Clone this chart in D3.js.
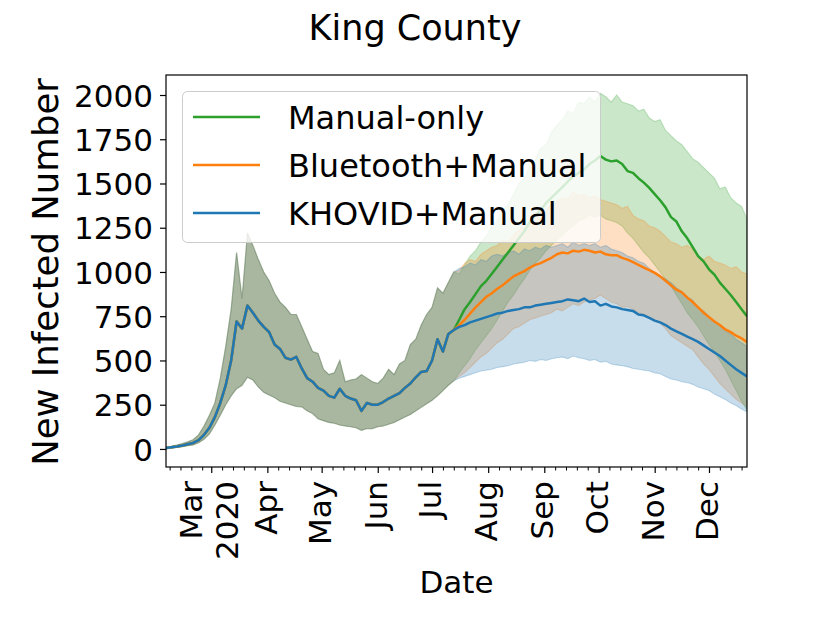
<!DOCTYPE html>
<html>
<head>
<meta charset="utf-8">
<script src="https://cdn.jsdelivr.net/npm/d3@7"></script>
<style>
  body { margin: 0; background: #fff; }
  svg text { font-family: "DejaVu Sans", sans-serif; fill: #000; }
</style>
</head>
<body>
<div id="chart"></div>
<script>
// samples every 3 days from 2020-02-05
var START = new Date(2020, 1, 5), STEP = 3, N = 108;

// before the split all three scenarios share the same curve (k = 0..53)
var sharedMean = [5,10,14,20,27,34,50,80,120,180,260,360,500,720,680,810,770,725,690,660,590,565,515,505,520,455,400,380,345,330,300,290,340,300,285,275,215,260,250,250,265,285,300,315,345,370,405,435,440,500,620,550,650,672];
var sharedHigh = [8,15,22,30,40,52,80,130,190,260,400,580,790,1110,850,1220,1150,1070,1000,950,880,830,800,760,760,690,620,550,540,450,420,430,500,380,390,395,420,400,380,370,400,450,420,480,500,590,620,700,760,800,910,880,940,1000];
var sharedLow = [2,5,8,12,18,22,35,55,85,135,190,250,300,340,360,405,390,350,320,305,290,270,260,250,240,238,215,200,170,160,150,145,135,130,125,120,105,115,115,125,130,140,150,165,180,195,215,235,255,275,300,330,360,385];

// after the split (k = 54..107)
var greenMean = [730,790,830,875,920,950,990,1030,1070,1110,1150,1190,1230,1280,1320,1350,1390,1420,1450,1480,1510,1540,1560,1580,1610,1630,1655,1635,1625,1630,1610,1570,1560,1530,1505,1475,1440,1405,1365,1310,1285,1230,1190,1140,1090,1060,1015,985,940,905,870,830,790,750];
var greenHigh = [990,1040,1090,1120,1170,1200,1260,1290,1350,1380,1440,1500,1530,1600,1630,1700,1720,1790,1830,1860,1910,1900,1960,1950,1990,1960,2010,1990,1960,2000,1960,1950,1940,1910,1920,1870,1850,1860,1800,1770,1740,1720,1680,1640,1620,1590,1560,1530,1470,1480,1420,1390,1370,1300];
var greenLow = [430,470,510,560,600,640,680,730,780,830,870,920,960,1010,1050,1080,1120,1150,1180,1210,1240,1260,1290,1300,1320,1310,1320,1300,1290,1280,1260,1220,1190,1150,1110,1080,1040,1000,960,920,870,820,770,730,690,640,590,550,500,450,390,330,270,220];

var orangeMean = [700,730,765,800,830,860,880,905,925,950,975,990,1005,1025,1040,1050,1065,1080,1100,1110,1105,1120,1115,1125,1120,1110,1115,1100,1095,1095,1080,1070,1055,1040,1025,1010,995,975,950,925,900,885,855,830,800,770,745,720,700,675,660,640,625,605];
var orangeHigh = [1010,1050,1070,1060,1100,1120,1140,1150,1180,1170,1210,1240,1260,1280,1320,1300,1350,1380,1400,1420,1410,1450,1430,1440,1420,1430,1410,1400,1390,1380,1360,1370,1320,1300,1290,1260,1250,1230,1200,1170,1160,1140,1150,1130,1090,1070,1090,1060,1050,1040,1020,1030,1000,990];
var orangeLow = [410,430,460,490,520,540,570,600,620,650,680,690,710,730,740,750,760,770,790,780,800,820,810,830,840,850,870,850,830,820,800,805,790,770,760,740,720,710,680,640,620,600,580,560,520,480,450,410,370,340,310,280,260,240];

var blueMean = [690,700,715,725,735,745,755,765,770,780,785,790,800,800,810,815,820,825,830,835,845,840,835,850,830,835,810,820,805,800,790,785,780,760,755,740,725,715,700,680,665,650,635,620,605,585,565,545,525,500,475,450,430,410];
var blueHigh = [1020,1030,1050,1040,1070,1060,1090,1100,1090,1110,1120,1100,1130,1120,1140,1130,1150,1140,1150,1160,1140,1170,1150,1160,1150,1160,1140,1150,1130,1120,1110,1090,1080,1060,1050,1020,1000,980,960,940,910,890,860,840,800,780,750,720,700,670,650,620,600,580];
var blueLow = [400,410,420,430,440,445,450,460,465,470,480,485,490,500,495,505,500,510,515,520,510,525,515,510,500,505,490,495,480,475,470,465,455,450,445,440,430,425,410,395,390,380,375,365,350,340,330,310,295,280,260,245,225,210];

var seriesNames = ["Manual-only", "Bluetooth+Manual", "KHOVID+Manual"];
var seriesColors = ["#2ca02c", "#ff7f0e", "#1f77b4"];

var yTicks = [0, 250, 500, 750, 1000, 1250, 1500, 1750, 2000];
var monthLabels = ["Mar\n2020", "Apr", "May", "Jun", "Jul", "Aug", "Sep", "Oct", "Nov", "Dec"];
var minorDays = [7, 13, 19, 25];

var WIDTH = 830, HEIGHT = 623;
var M = { left: 166, right: 747, top: 75, bottom: 467 };

var dates = d3.range(N).map(function (i) { return d3.timeDay.offset(START, STEP * i); });

function rows(mean, low, high) {
    var m = sharedMean.concat(mean), l = sharedLow.concat(low), h = sharedHigh.concat(high);
    return dates.map(function (d, i) { return { date: d, mean: m[i], low: l[i], high: h[i] }; });
}

var series = [
    rows(greenMean, greenLow, greenHigh),
    rows(orangeMean, orangeLow, orangeHigh),
    rows(blueMean, blueLow, blueHigh)
];

var x = d3.scaleTime().domain([dates[0], dates[N - 1]]).range([M.left, M.right]);
var y = d3.scaleLinear().domain([-102, 2113]).range([M.bottom, M.top]);

var svg = d3.select("#chart").append("svg")
    .attr("width", WIDTH)
    .attr("height", HEIGHT);

svg.append("defs").append("clipPath").attr("id", "plot-clip")
    .append("rect")
    .attr("x", M.left).attr("y", M.top)
    .attr("width", M.right - M.left).attr("height", M.bottom - M.top);

var plot = svg.append("g").attr("clip-path", "url(#plot-clip)");

var area = d3.area()
    .x(function (d) { return x(d.date); })
    .y0(function (d) { return y(d.low); })
    .y1(function (d) { return y(d.high); });

var line = d3.line()
    .x(function (d) { return x(d.date); })
    .y(function (d) { return y(d.mean); });

// bands first, then the mean lines on top
series.forEach(function (s, i) {
    plot.append("path")
        .attr("d", area(s))
        .attr("fill", seriesColors[i])
        .attr("fill-opacity", 0.25)
        .attr("stroke", seriesColors[i])
        .attr("stroke-opacity", 0.25)
        .attr("stroke-width", 1.1);
});

series.forEach(function (s, i) {
    plot.append("path")
        .attr("d", line(s))
        .attr("fill", "none")
        .attr("stroke", seriesColors[i])
        .attr("stroke-width", 2.5)
        .attr("stroke-linejoin", "round");
});

// y axis
var yAxis = svg.append("g")
    .attr("transform", "translate(" + M.left + ",0)")
    .call(d3.axisLeft(y).tickValues(yTicks).tickFormat(d3.format("d"))
        .tickSize(6).tickPadding(7).tickSizeOuter(0));
yAxis.select(".domain").remove();
yAxis.selectAll("line").attr("stroke", "#000").attr("stroke-width", 1.2);
yAxis.selectAll("text").style("font-size", "31px").attr("dy", "0.36em");

// x axis: month ticks + minor ticks on days 7,13,19,25
var monthTicks = d3.timeMonth.range(new Date(2020, 2, 1), new Date(2020, 11, 2));
var minorTicks = d3.timeDay.range(dates[0], dates[N - 1]).filter(function (d) {
    return minorDays.indexOf(d.getDate()) >= 0;
});

var xMajor = svg.append("g")
    .attr("transform", "translate(0," + M.bottom + ")")
    .call(d3.axisBottom(x).tickValues(monthTicks).tickSize(6).tickFormat(""));
xMajor.select(".domain").remove();
xMajor.selectAll("line").attr("stroke", "#000").attr("stroke-width", 1.2);

var xMinor = svg.append("g")
    .attr("transform", "translate(0," + M.bottom + ")")
    .call(d3.axisBottom(x).tickValues(minorTicks).tickSize(3.5).tickFormat(""));
xMinor.select(".domain").remove();
xMinor.selectAll("line").attr("stroke", "#000").attr("stroke-width", 1);

monthTicks.forEach(function (d, i) {
    var lines = monthLabels[i].split("\n");
    lines.forEach(function (txt, j) {
        var off = (j - (lines.length - 1) / 2) * 36 - 2;
        svg.append("text")
            .attr("transform", "translate(" + (x(d) + off) + ",481) rotate(-90)")
            .attr("text-anchor", "end")
            .attr("dy", "0.36em")
            .style("font-size", "31px")
            .text(txt);
    });
});

// frame
svg.append("rect")
    .attr("x", M.left).attr("y", M.top)
    .attr("width", M.right - M.left).attr("height", M.bottom - M.top)
    .attr("fill", "none")
    .attr("stroke", "#000")
    .attr("stroke-width", 1.2);

// legend
var legend = svg.append("g");
legend.append("rect")
    .attr("x", 182.5).attr("y", 91.5)
    .attr("width", 418).attr("height", 151)
    .attr("rx", 5).attr("ry", 5)
    .attr("fill", "#fff").attr("fill-opacity", 0.8)
    .attr("stroke", "#cccccc").attr("stroke-width", 1);

seriesNames.forEach(function (name, i) {
    var ly = 117 + i * 48;
    legend.append("line")
        .attr("x1", 193).attr("x2", 260)
        .attr("y1", ly).attr("y2", ly)
        .attr("stroke", seriesColors[i])
        .attr("stroke-width", 2.5);
    legend.append("text")
        .attr("x", 288).attr("y", ly)
        .attr("dy", "0.36em")
        .style("font-size", "32px")
        .text(name);
});

// titles
svg.append("text")
    .attr("x", 415).attr("y", 40)
    .attr("text-anchor", "middle")
    .style("font-size", "35px")
    .text("King County");

svg.append("text")
    .attr("transform", "translate(58," + ((M.top + M.bottom) / 2 + 1) + ") rotate(-90)")
    .attr("text-anchor", "middle")
    .style("font-size", "35.5px")
    .text("New Infected Number");

svg.append("text")
    .attr("x", (M.left + M.right) / 2).attr("y", 593)
    .attr("text-anchor", "middle")
    .style("font-size", "31px")
    .text("Date");
</script>
</body>
</html>
